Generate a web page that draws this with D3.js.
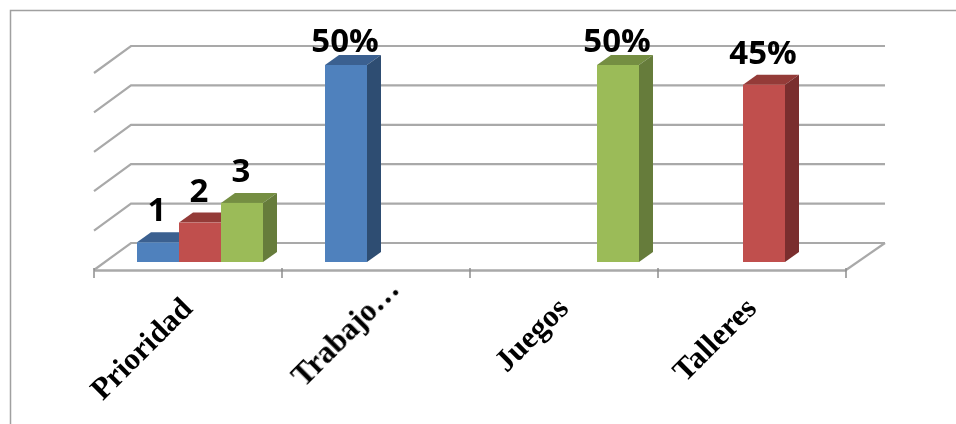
<!DOCTYPE html>
<html><head><meta charset="utf-8">
<script src="https://cdn.jsdelivr.net/npm/d3@7/dist/d3.min.js"></script>
<style>html,body{margin:0;padding:0;background:#fff;overflow:hidden}svg{display:block}</style>
</head><body><svg id="c" width="956" height="424"></svg>
<script>
const categories = ["Prioridad","Trabajo…","Juegos","Talleres"];
const seriesNames = ["s1","s2","s3"];
const s1 = [5,50,null,null];
const s2 = [10,null,null,45];
const s3 = [15,null,50,null];
const labels1 = ["1","50%",null,null];
const labels2 = ["2",null,null,"45%"];
const labels3 = ["3",null,"50%",null];
const yTicks = [0,10,20,30,40,50];
const colors = {s1:["#4f81bd","#3b6190","#2f4d72"],s2:["#c0504d","#943b39","#7a2f2d"],s3:["#9bbb59","#748e43","#667c3b"]};

const W=956,H=424;
const svg=d3.select("#c");
const defs=svg.append("defs");
defs.append("filter").attr("id","soft").append("feGaussianBlur").attr("stdDeviation",0.55);
defs.append("filter").attr("id","softText").append("feGaussianBlur").attr("stdDeviation",0.35);

const x=d3.scaleBand().domain(categories).range([94,846]);
const inner=d3.scaleBand().domain(seriesNames).range([43,169]);
const y=d3.scaleLinear().domain([0,50]).range([262,65]);
const wallDx=37, wallDy=-27, barDx=14, barDy=-10, floorY=270, wallShift=-19;

// frame
svg.append("path").attr("d",`M10.5,${H}V10.5H${W}`).attr("fill","none").attr("stroke","#a0a0a0").attr("stroke-width",1.5);

const g=svg.append("g").attr("filter","url(#soft)");
const backY=v=>y(v)+wallShift;
const grid=g.append("g").attr("fill","none").attr("stroke","#a9a9a9").attr("stroke-width",2.2);
yTicks.forEach(v=>{
  grid.append("path").attr("d",`M94,${backY(v)-wallDy}L${94+wallDx},${backY(v)}H885`);
});
grid.append("path").attr("d",`M846,${floorY}L885,${floorY+wallDy}`);

// floor front + ticks
const axis=d3.axisBottom(x).tickSize(0).tickPadding(0);
const ax=g.append("g").attr("transform",`translate(0,${floorY})`).call(axis);
ax.select(".domain").attr("stroke","#a9a9a9").attr("stroke-width",2.6);
ax.selectAll("text").remove();
const edges=categories.map(c=>x(c)).concat([x.range()[1]]);
ax.selectAll("line.edge").data(edges).enter().append("line").attr("class","edge")
  .attr("x1",d=>d).attr("x2",d=>d).attr("y1",-2).attr("y2",8).attr("stroke","#8c8c8c").attr("stroke-width",1.5);

// bars
[[ "s1",s1],["s2",s2],["s3",s3]].forEach(([n,vals])=>{
  const bw=inner.bandwidth();
  const sel=g.append("g").selectAll("g").data(vals.map((v,i)=>({v,c:categories[i]})).filter(d=>d.v!=null)).enter().append("g");
  const X=d=>x(d.c)+inner(n), T=d=>y(d.v), B=y(0);
  sel.append("path").attr("fill",colors[n][1]).attr("d",d=>`M${X(d)},${T(d)}l${barDx},${barDy}h${bw}l${-barDx},${-barDy}z`);
  sel.append("path").attr("fill",colors[n][2]).attr("d",d=>`M${X(d)+bw},${T(d)}l${barDx},${barDy}V${B+barDy}l${-barDx},${-barDy}z`);
  sel.append("rect").attr("fill",colors[n][0]).attr("x",X).attr("y",T).attr("width",bw).attr("height",d=>B-T(d));
});

// data labels: sit above the bar, held down at the top of the plot
const lab=svg.append("g").attr("filter","url(#softText)").attr("font-family","'Open Sans',sans-serif").attr("font-weight",700).attr("font-size",33).attr("fill","#000").attr("text-anchor","middle");
[["s1",s1,labels1],["s2",s2,labels2],["s3",s3,labels3]].forEach(([n,vals,ls])=>{
  vals.forEach((v,i)=>{
    if(v==null)return;
    lab.append("text").attr("x",x(categories[i])+inner(n)+inner.bandwidth()/2-1)
      .attr("y",Math.max(y(v)-21,52)).text(ls[i]);
  });
});

// category labels: the truncated label runs further along the slant
const cl=svg.append("g").attr("filter","url(#softText)").attr("font-family","'Liberation Serif',serif").attr("font-weight",700).attr("font-size",31).attr("fill","#000").attr("text-anchor","end");
categories.forEach(c=>{
  const slide=c.endsWith("…")?19:0;
  const cx=x(c)+x.bandwidth()/2+6+slide;
  cl.append("text").attr("transform",`translate(${cx},${310-slide}) rotate(-45)`).text(c);
});
</script></body></html>
